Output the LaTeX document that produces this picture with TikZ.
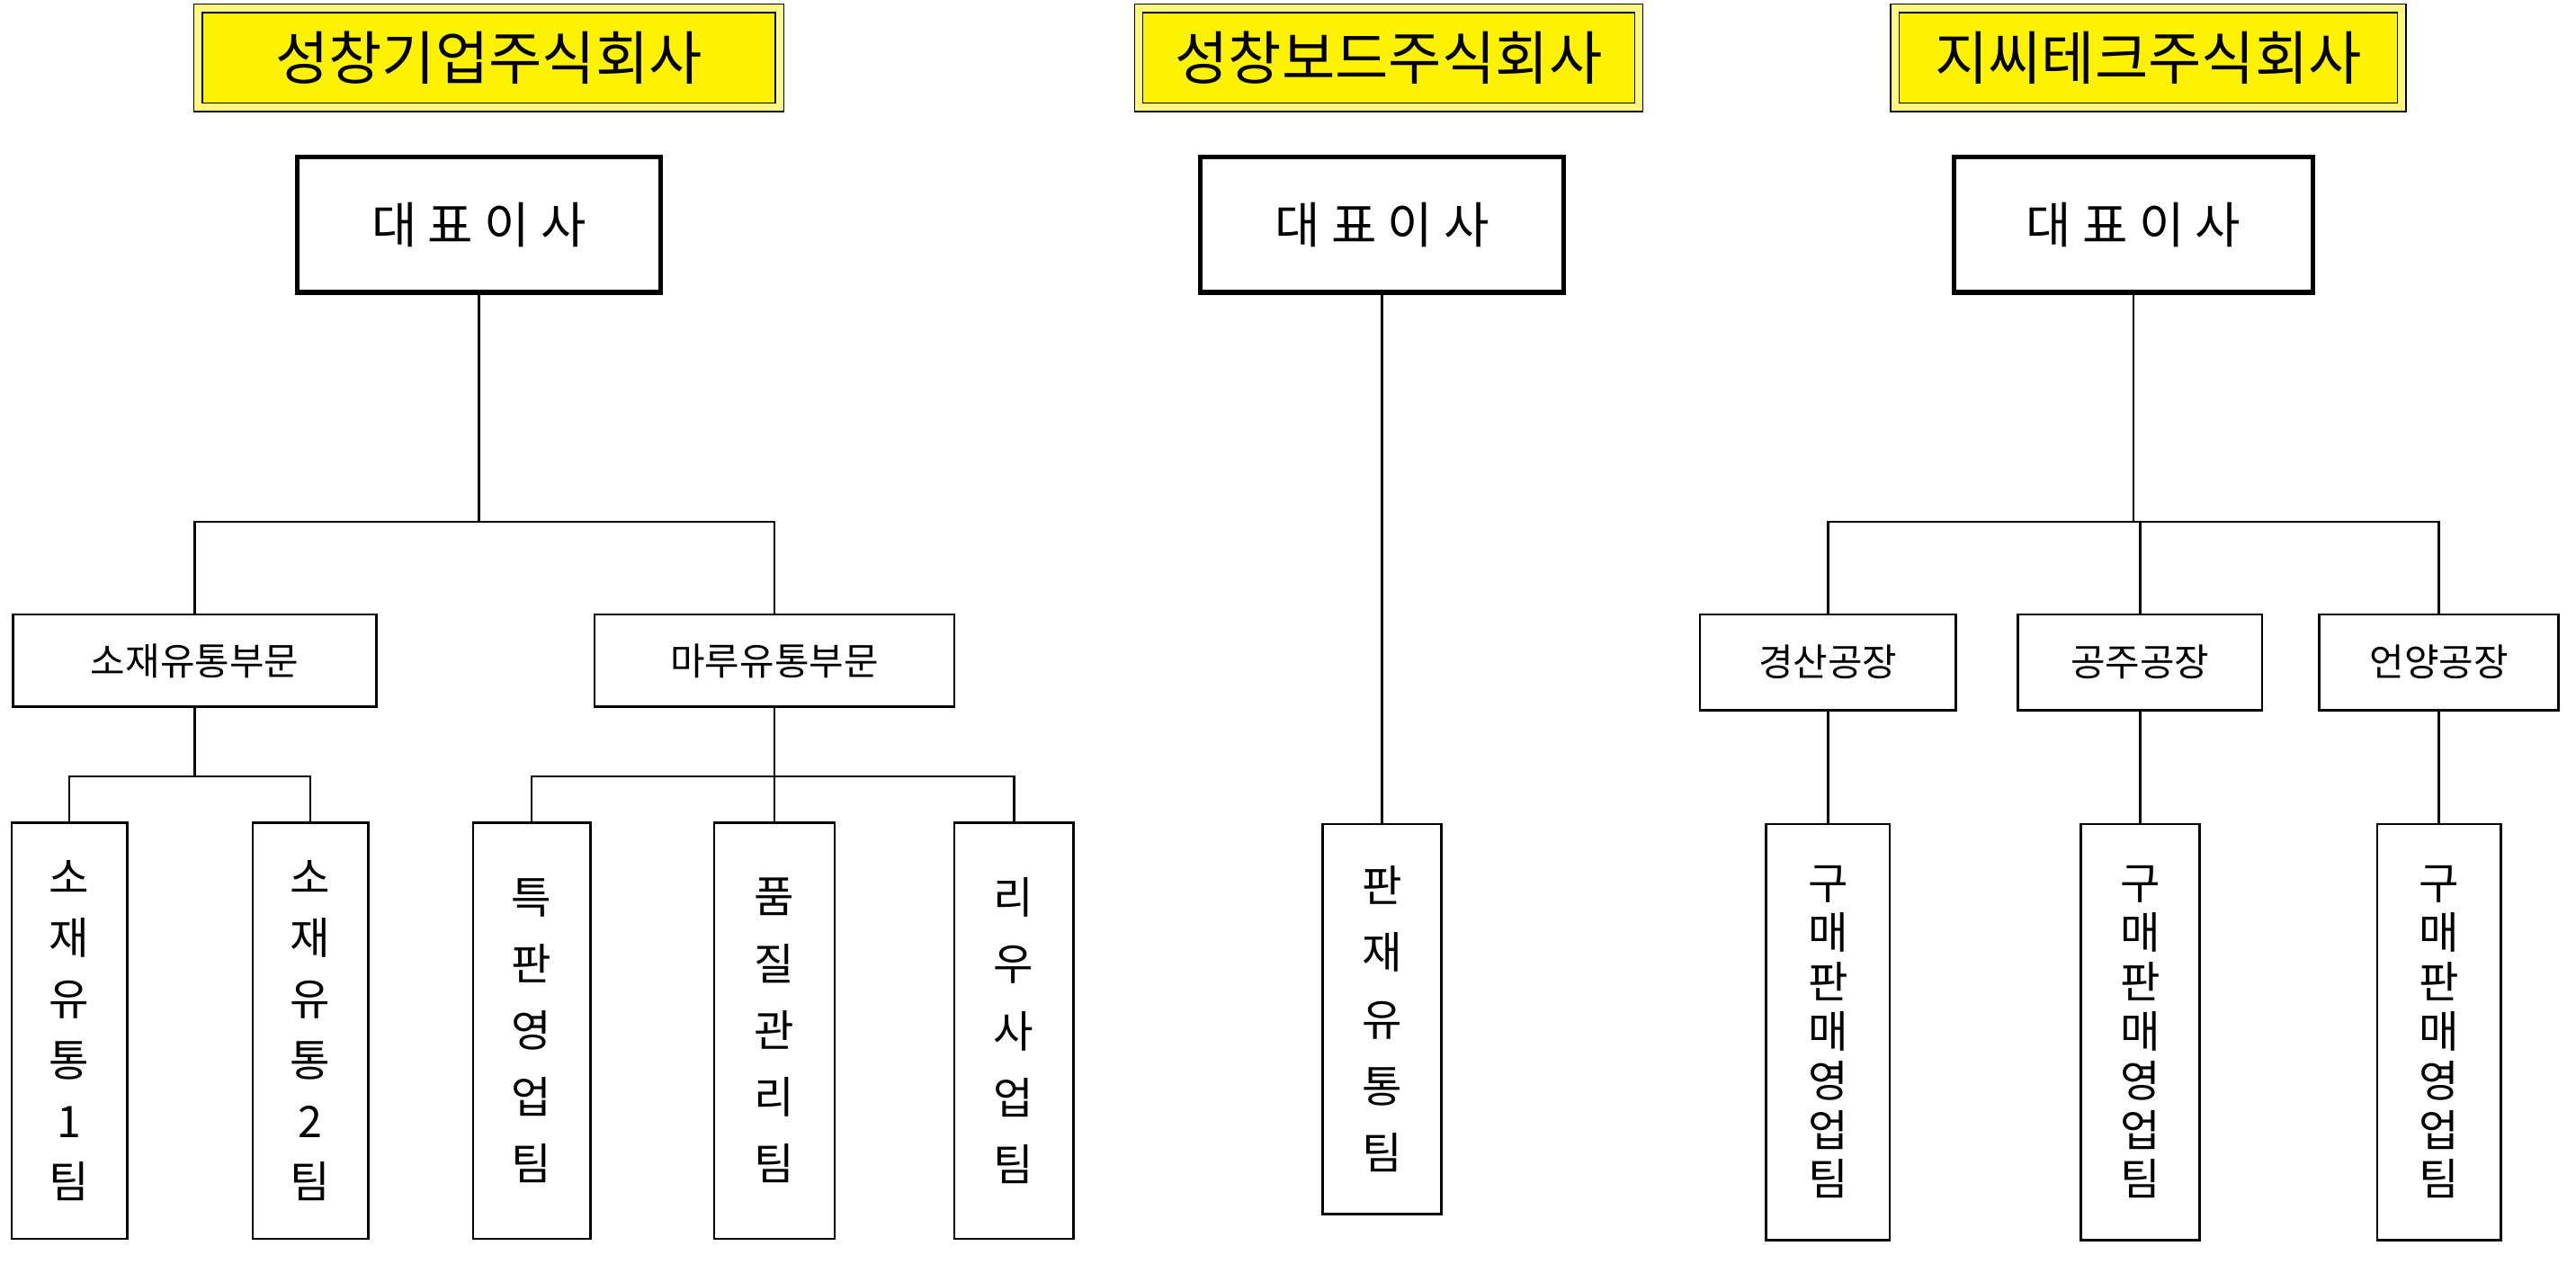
\documentclass[tikz,border=0pt]{standalone}
\usepackage{fontspec}
\setmainfont{Noto Sans CJK KR}
\begin{document}
\begin{tikzpicture}[x=0.02cm,y=-0.02cm,
    sz/.style 2 args={minimum width=#1*0.02cm,minimum height=#2*0.02cm,inner sep=0pt},
    titlebox/.style={draw,double=yellow!50,double distance=2.5pt,fill=yellow,font=\fontsize{20}{24}\selectfont},
    ceobox/.style={draw,line width=1.6pt,font=\fontsize{17}{20}\selectfont},
    deptbox/.style={draw,thick,font=\fontsize{13}{16}\selectfont},
    teambox/.style={draw,thick,align=center,font=\fontsize{15}{#1}\selectfont},
    link/.style={thick}]
  \useasboundingbox (0,0) rectangle (1560,765);
  % titles
  \node[titlebox,sz={352}{60}] (t1) at (296,35) {성창기업주식회사};
  \node[titlebox,sz={303}{60}] (t2) at (841,35) {성창보드주식회사};
  \node[titlebox,sz={307}{60}] (t3) at (1301,35) {지씨테크주식회사};
  % heads
  \node[ceobox,sz={220}{82}] (c1) at (290,136) {대 표 이 사};
  \node[ceobox,sz={220}{82}] (c2) at (837,136) {대 표 이 사};
  \node[ceobox,sz={217}{82}] (c3) at (1292,136) {대 표 이 사};
  % divisions
  \node[deptbox,sz={220}{56}] (d1) at (118,400) {소재유통부문};
  \node[deptbox,sz={218}{56}] (d2) at (469,400) {마루유통부문};
  \node[deptbox,sz={155}{58}] (f1) at (1107,401) {경산공장};
  \node[deptbox,sz={148}{58}] (f2) at (1296,401) {공주공장};
  \node[deptbox,sz={145}{58}] (f3) at (1477,401) {언양공장};
  % teams
  \node[teambox=21,sz={70}{252}] (a1) at (42,624) {소\\재\\유\\통\\1\\팀};
  \node[teambox=21,sz={70}{252}] (a2) at (188,624) {소\\재\\유\\통\\2\\팀};
  \node[teambox=23,sz={71}{252}] (b1) at (322,624) {특\\판\\영\\업\\팀};
  \node[teambox=23,sz={73}{252}] (b2) at (469,624) {품\\질\\관\\리\\팀};
  \node[teambox=23,sz={72}{252}] (b3) at (614,624) {리\\우\\사\\업\\팀};
  \node[teambox=23,sz={72}{236}] (m1) at (837,617) {판\\재\\유\\통\\팀};
  \node[teambox=17,sz={75}{252}] (g1) at (1107,625) {구\\매\\판\\매\\영\\업\\팀};
  \node[teambox=17,sz={72}{252}] (g2) at (1296,625) {구\\매\\판\\매\\영\\업\\팀};
  \node[teambox=17,sz={75}{252}] (g3) at (1477,625) {구\\매\\판\\매\\영\\업\\팀};
  % junctions
  \coordinate (j1) at (290,316);
  \coordinate (j2) at (118,470);
  \coordinate (j3) at (469,470);
  \coordinate (j4) at (1292,316);
  % connectors
  \draw[link] (c1.south) -- (j1);
  \draw[link] (d1.north) |- (j1);
  \draw[link] (d2.north) |- (j1);
  \draw[link] (d1.south) -- (j2);
  \draw[link] (a1.north) |- (j2);
  \draw[link] (a2.north) |- (j2);
  \draw[link] (d2.south) -- (j3);
  \draw[link] (b1.north) |- (j3);
  \draw[link] (b2.north) |- (j3);
  \draw[link] (b3.north) |- (j3);
  \draw[link] (c2.south) -- (m1.north);
  \draw[link] (c3.south) -- (j4);
  \draw[link] (f1.north) |- (j4);
  \draw[link] (f2.north) |- (j4);
  \draw[link] (f3.north) |- (j4);
  \draw[link] (f1.south) -- (g1.north);
  \draw[link] (f2.south) -- (g2.north);
  \draw[link] (f3.south) -- (g3.north);
\end{tikzpicture}
\end{document}
